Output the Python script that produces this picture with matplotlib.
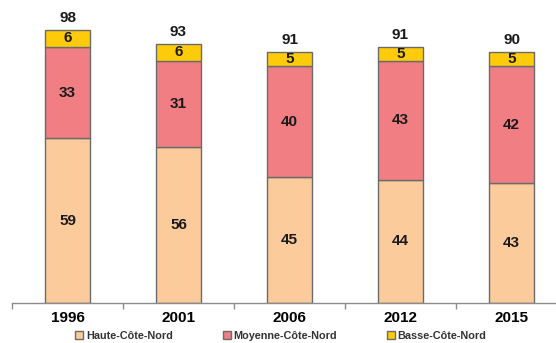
import matplotlib.pyplot as plt
import numpy as np

years = ['1996', '2001', '2006', '2012', '2015']
haute = [59, 56, 45, 44, 43]
moyenne = [33, 31, 40, 43, 42]
basse = [6, 6, 5, 5, 5]
totals = [98, 93, 91, 91, 90]

series = [('Haute-Côte-Nord', haute, '#FBCB9B'),
          ('Moyenne-Côte-Nord', moyenne, '#F07E83'),
          ('Basse-Côte-Nord', basse, '#FDCB0A')]


def main():
    plt.rcParams['font.family'] = ['Liberation Sans', 'DejaVu Sans']

    fig = plt.figure(figsize=(5.56, 3.43), dpi=100)
    ax = fig.add_axes([12 / 556, 40.4 / 343, 555 / 556, 292.6 / 343])

    x = np.arange(len(years))
    bottom = np.zeros(len(years))
    for name, vals, color in series:
        bars = ax.bar(x, vals, width=0.4, bottom=bottom, color=color,
                      edgecolor='#6b6b6b', linewidth=1.0, label=name)
        for b, v in zip(bars, vals):
            ax.text(b.get_x() + b.get_width() / 2, b.get_y() + b.get_height() / 2,
                    str(v), ha='center', va='center', fontsize=11,
                    fontweight='bold', color='#1a1a1a')
        bottom += np.array(vals)

    # totaux au-dessus des barres
    for xi, top, t in zip(x, bottom, totals):
        ax.text(xi, top + 1.8, str(t), ha='center', va='bottom', fontsize=11,
                fontweight='bold', color='#1a1a1a')

    ax.set_xlim(-0.5, 4.5)
    ax.set_ylim(0, 105.2)
    ax.set_yticks([])
    for s in ['top', 'right', 'left']:
        ax.spines[s].set_visible(False)
    ax.spines['bottom'].set_color('#8c8c8c')
    ax.spines['bottom'].set_linewidth(1.0)

    ax.set_xticks(x)
    ax.set_xticklabels(years, fontsize=11, fontweight='bold')
    ax.tick_params(axis='x', which='major', length=0, pad=6)
    ax.set_xticks(np.arange(-0.5, 5, 1), minor=True)
    ax.tick_params(axis='x', which='minor', length=4.5, color='#8c8c8c', width=1.0)

    leg = fig.legend(loc='lower center', bbox_to_anchor=(0.505, -0.022), ncol=3,
                     frameon=False, fontsize=7.8, handlelength=0.75, handleheight=0.75,
                     handletextpad=0.25, columnspacing=4.6)
    for t in leg.get_texts():
        t.set_fontweight('bold')
        t.set_color('#333333')

    plt.savefig('out.png', dpi=100)


if __name__ == '__main__':
    main()
